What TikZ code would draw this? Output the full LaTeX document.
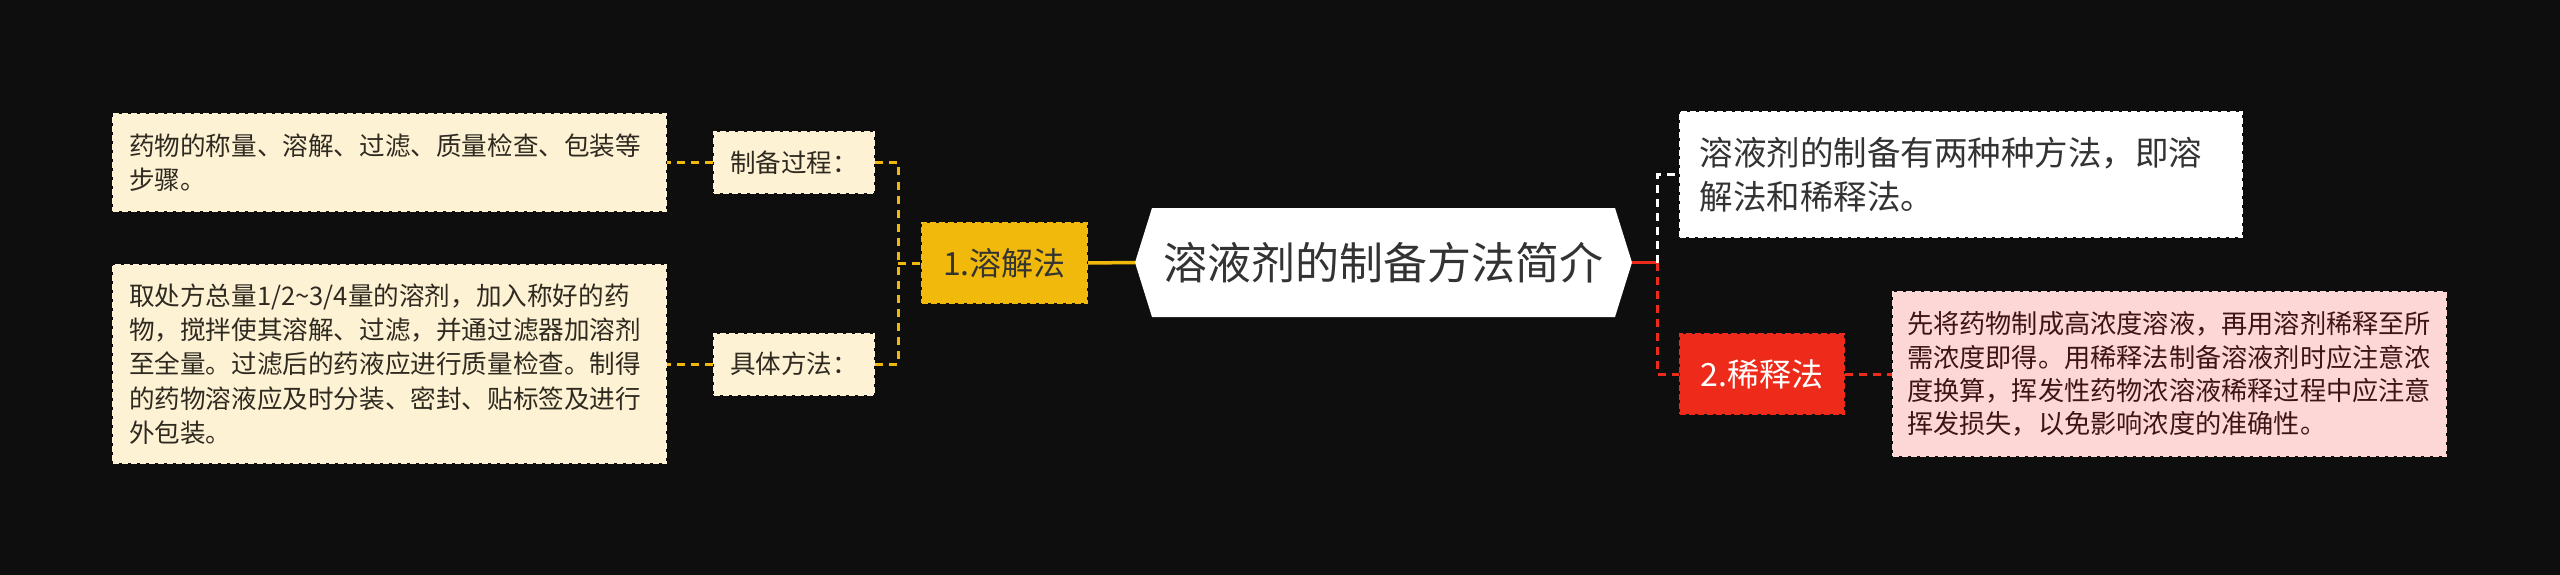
\documentclass[tikz,border=0pt]{standalone}
\usepackage{fontspec}
\setmainfont{Noto Sans CJK SC}
\definecolor{bgc}{HTML}{0E0E0E}
\definecolor{gold}{HTML}{F0B90B}
\definecolor{cream}{HTML}{FEF2D5}
\definecolor{creamtxt}{HTML}{2F2A20}
\definecolor{scarlet}{HTML}{EE2B1A}
\definecolor{blush}{HTML}{FCD7D5}
\definecolor{blushtxt}{HTML}{3E1414}
\definecolor{inkgray}{HTML}{333333}

\tikzset{
	box/.style={rectangle, inner sep=0pt, align=left, line width=2pt, dash pattern=on 6pt off 3pt},
	leaf/.style={box, fill=cream, draw=cream, text=creamtxt, minimum width=553, inner xsep=16pt, text width=521pt, font=\fontsize{25.6}{34.3}\selectfont},
	tag/.style={box, fill=cream, draw=cream, text=creamtxt, minimum width=160, minimum height=61, align=center, font=\fontsize{25.6}{34}\selectfont},
	hub/.style={rectangle, inner sep=0pt, minimum width=497, minimum height=109, text=inkgray, font=\fontsize{44}{50}\selectfont},
	firstbranch/.style={box, fill=gold, draw=gold, text=inkgray, minimum width=165, minimum height=80, align=center, font=\fontsize{32}{38}\selectfont},
	secondbranch/.style={box, fill=scarlet, draw=scarlet, text=white, minimum width=164, minimum height=80, align=center, font=\fontsize{32}{38}\selectfont},
	intro/.style={box, fill=white, draw=white, text=inkgray, minimum width=562, minimum height=125, inner xsep=19.5pt, text width=523pt, font=\fontsize{33.5}{44}\selectfont},
	pinkleaf/.style={box, fill=blush, draw=blush, text=blushtxt, minimum width=553, minimum height=164, inner xsep=14pt, text width=525pt, font=\fontsize{26.2}{33.3}\selectfont},
	link/.style={line width=3pt, dash pattern=on 8pt off 6pt},
	trunk/.style={line width=3.5pt},
}

\begin{document}
\begin{tikzpicture}
	\pgfsetxvec{\pgfpoint{1pt}{0pt}}
	\pgfsetyvec{\pgfpoint{0pt}{-1pt}}

	\fill[bgc] (0,0) rectangle (2560,575);
	\useasboundingbox (0,0) rectangle (2560,575);

	% centre
	\fill[white] (1135,262.5) -- (1152,208) -- (1615,208) -- (1632,262.5) -- (1615,317) -- (1152,317) -- cycle;
	\node[hub] at (1383.5,262.5) (root) {溶液剂的制备方法简介};

	% left side
	\node[firstbranch] at (1004.5,263) (dissolve) {1.溶解法};
	\node[tag] at (794,162.5) (prep) {制备过程：};
	\node[tag] at (794,364) (method) {具体方法：};
	\node[leaf, minimum height=97] at (389.5,162.5) (preptext) {药物的称量、溶解、过滤、质量检查、包装等\\步骤。};
	\node[leaf, minimum height=198] at (389.5,364) (methodtext) {取处方总量1/2\textasciitilde3/4量的溶剂，加入称好的药\\物，搅拌使其溶解、过滤，并通过滤器加溶剂\\至全量。过滤后的药液应进行质量检查。制得\\的药物溶液应及时分装、密封、贴标签及进行\\外包装。};

	% right side
	\node[intro] at (1961,174.5) (summary) {溶液剂的制备有两种种方法，即溶\\解法和稀释法。};
	\node[secondbranch] at (1762,374) (dilute) {2.稀释法};
	\node[pinkleaf] at (2169.5,374) (dilutetext) {先将药物制成高浓度溶液，再用溶剂稀释至所\\需浓度即得。用稀释法制备溶液剂时应注意浓\\度换算，挥发性药物浓溶液稀释过程中应注意\\挥发损失，以免影响浓度的准确性。};

	\coordinate (jl) at (898,263);
	\coordinate (jr) at (1657,262.5);

	\draw[trunk, gold] (dissolve.east) -- (root.west);
	\draw[link, gold] (jl) -- (dissolve.west);
	\draw[link, gold] (prep.east) -| (jl);
	\draw[link, gold] (method.east) -| (jl);
	\path[link, gold] (prep) edge (preptext)
		(method) edge (methodtext);

	\draw[trunk, scarlet] (root.east) -- (jr);
	\draw[link, white] (jr) |- (summary.west);
	\draw[link, scarlet] (jr) |- (dilute.west);
	\path[link, scarlet] (dilute) edge (dilutetext);

\end{tikzpicture}
\end{document}
